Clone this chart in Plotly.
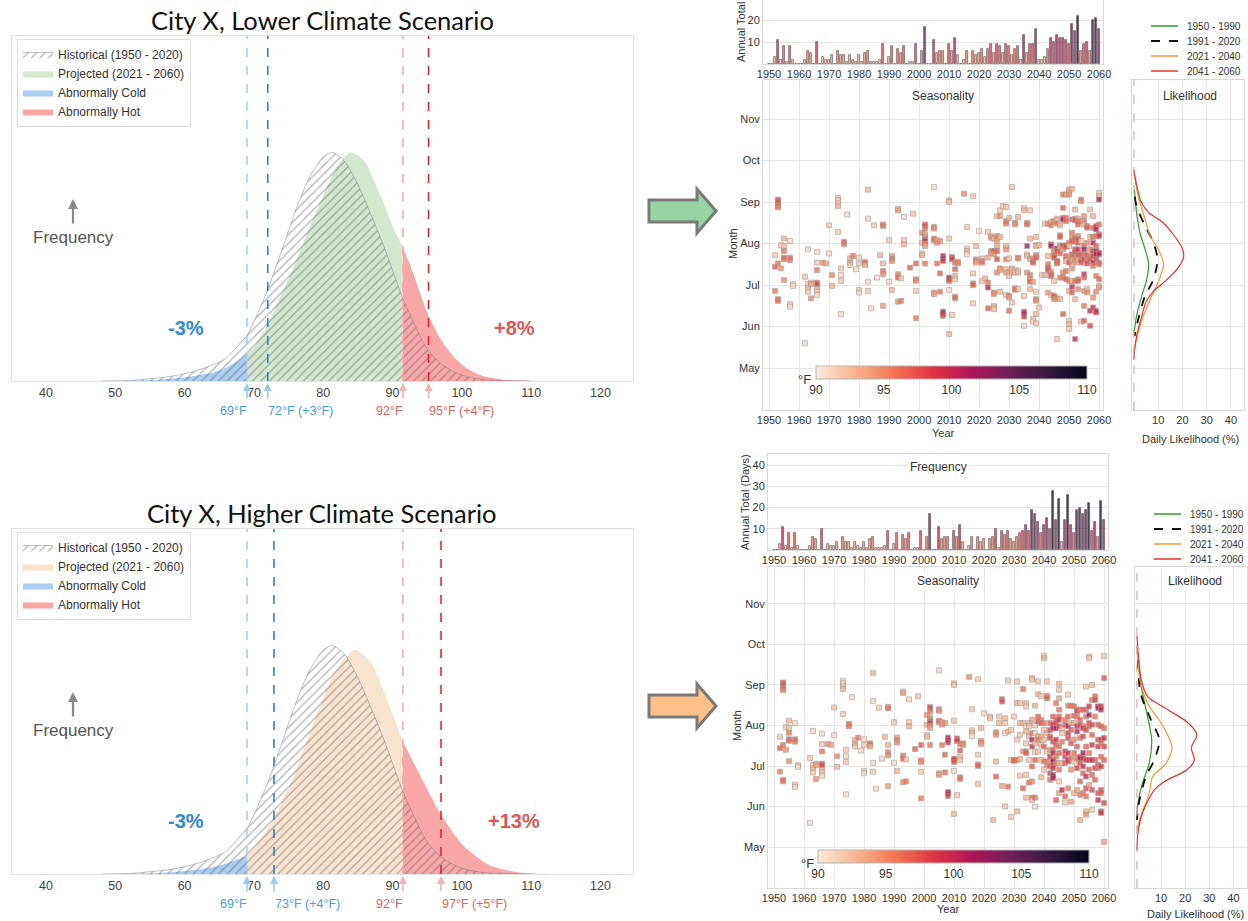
import numpy as np
import plotly.graph_objects as go

W, H = 1248, 921
def P(x): return x / W
def Q(y): return 1 - y / H

FONT = "Liberation Sans"

# ---------------- distribution panels (left) ----------------
hist_T = [48, 52, 55, 58, 61, 64, 66, 68, 69, 70, 72, 74, 76, 78, 80, 81.3, 83, 85, 87, 89, 91.5, 93, 95, 97, 99, 101, 103, 106, 110]
hist_h = [0.0, 0.002, 0.01, 0.02, 0.039, 0.07, 0.10, 0.165, 0.20, 0.26, 0.40, 0.57, 0.745, 0.89, 0.98, 1.0, 0.965, 0.86, 0.72, 0.57, 0.36, 0.26, 0.14, 0.075, 0.038, 0.017, 0.007, 0.002, 0.0]

lo_T = [50, 55, 58, 61, 64, 66, 68, 69, 70, 72, 74, 76, 78, 80, 82, 84, 86, 88, 90, 91.5, 93, 95, 97, 99, 101, 103, 106, 110, 114]
lo_h = [0.0, 0.004, 0.01, 0.02, 0.037, 0.058, 0.095, 0.12, 0.15, 0.25, 0.38, 0.52, 0.67, 0.81, 0.94, 1.0, 0.96, 0.83, 0.68, 0.585, 0.47, 0.30, 0.18, 0.10, 0.05, 0.022, 0.006, 0.001, 0.0]

hi_T = [50, 55, 58, 61, 64, 66, 68, 69, 70, 72, 74, 76, 78, 80, 82, 84.6, 87, 89, 91.5, 94, 97, 100, 104, 108, 112, 116]
hi_h = [0.0, 0.003, 0.008, 0.016, 0.03, 0.046, 0.068, 0.082, 0.11, 0.20, 0.31, 0.45, 0.61, 0.77, 0.90, 0.98, 0.92, 0.78, 0.58, 0.43, 0.26, 0.13, 0.038, 0.008, 0.001, 0.0]

COLD_T, HOT_T = 69, 91.5
lo_thresholds = [69, 72, 91.5, 95.2]
hi_thresholds = [69, 72.9, 91.5, 97.0]
lo_labels = ["69°F", "72°F (+3°F)", "92°F", "95°F (+4°F)"]
hi_labels = ["69°F", "73°F (+4°F)", "92°F", "97°F (+5°F)"]
lo_pct = ["-3%", "+8%"]
hi_pct = ["-3%", "+13%"]
dist_ticks = [40, 50, 60, 70, 80, 90, 100, 110, 120]

# ---------------- annual frequency (bars) ----------------
bar_years_hist = list(range(1950, 2021))
bar_hist = [0, 0, 3, 11, 2, 8, 1, 8, 2, 0,
            0, 0, 2, 6, 5, 0, 10, 0, 3, 2,
            2, 4, 0, 6, 4, 4, 1, 4, 2, 1,
            4, 1, 5, 6, 1, 1, 1, 2, 9, 0,
            3, 8, 0, 7, 5, 8, 0, 1, 1, 9,
            0, 6, 17, 0, 0, 11, 5, 6, 6, 0,
            9, 6, 12, 4, 0, 2, 6, 0, 6, 4,
            5]
bar_years_proj = list(range(2021, 2061))
bar_lo = [7, 3, 7, 9, 5, 9, 8, 5, 9, 8, 4, 7, 8, 2, 13, 5, 9, 9, 16, 2,
          2, 3, 7, 12, 10, 13, 12, 12, 11, 9, 18, 15, 22, 6, 9, 10, 6, 20, 21, 16]
bar_hi = [0, 5, 6, 10, 1, 9, 7, 9, 5, 4, 6, 8, 9, 12, 9, 19, 17, 13, 8, 12,
          15, 10, 28, 14, 24, 4, 14, 26, 12, 8, 19, 20, 17, 19, 22, 9, 13, 6, 23, 14]

# ---------------- seasonality (hot days: year, month position, temperature) ----------------
hist_years = [1952, 1953, 1954, 1955, 1957, 1958, 1962, 1963, 1964, 1966, 1968, 1969, 1970, 1971, 1973, 1974,
              1975, 1976, 1977, 1978, 1979, 1980, 1982, 1983, 1984, 1985, 1986, 1987, 1988, 1990, 1991, 1993,
              1994, 1995, 1997, 1998, 1999, 2001, 2002, 2005, 2006, 2007, 2008, 2010, 2011, 2012, 2013, 2015,
              2016, 2018, 2019, 2020]
hist_months = [[7.72, 7.44, 6.86], [9.06, 9.03, 9.0, 8.93, 8.9, 8.87, 7.52, 6.66, 6.62], [7.96, 7.4],
               [8.12, 7.94, 7.82, 7.66, 7.62, 7.12], [8.06, 7.66, 7.6, 6.54, 6.48], [7.02, 6.98], [7.2, 5.6],
               [7.86, 7.02, 6.94, 6.84], [7.06, 7.02, 6.68], [7.8, 7.54, 7.36, 7.06, 7.02, 6.9, 6.84, 6.76],
               [7.54], [7.52], [8.44, 7.76], [7.24, 6.98], [9.1, 9.04, 8.97, 8.9, 8.28], [7.4, 7.24, 7.1, 6.3],
               [8.04, 7.98], [8.7], [7.64, 7.54, 7.48], [7.7], [7.38], [7.66, 7.52, 6.88, 6.82], [7.56, 7.52, 7.48],
               [9.3, 8.6, 7.08, 6.86], [6.44], [8.44], [7.18], [7.72], [8.46, 8.42, 7.52, 7.34, 7.26, 6.5],
               [8.08, 7.08], [7.7, 7.64, 7.58, 6.88], [8.84, 8.8, 7.26, 7.18, 6.6], [7.16, 6.62], [8.64, 8.08, 7.98],
               [7.42], [8.72], [7.52, 7.14, 7.1, 6.86, 6.2], [8.26, 8.02, 7.76, 7.72],
               [8.46, 8.42, 8.36, 8.22, 8.16, 8.1, 8.06, 8.0, 7.94, 7.52], [9.36, 8.4, 8.36, 8.12, 8.08, 6.82, 6.78],
               [8.08, 8.02, 7.52], [8.06, 7.28, 6.84], [7.7, 7.64, 7.58, 6.36, 6.32, 6.26],
               [9.04, 9.0, 8.12, 7.18, 7.14, 7.1, 6.88, 5.82], [7.68, 7.62, 6.28], [7.54, 7.38, 7.22, 7.14, 6.72, 6.68],
               [7.56, 7.52], [9.2], [8.4, 7.88, 7.82, 7.74], [9.14, 7.28, 7.04, 7.0, 6.56], [7.94, 7.62, 7.58, 7.54], [8.3]]
hist_temps = [[92, 97, 96], [97, 98, 97, 96, 97, 95, 96, 97, 96], [92, 95], [93, 92, 96, 97, 96, 95], [91, 97, 96, 92, 91],
              [92, 91], [92, 91], [91, 92, 93, 92], [93, 94, 95], [91, 92, 96, 97, 98, 93, 92, 91], [95], [94], [92, 91],
              [95, 93], [92, 91, 92, 93, 92], [92, 91, 92, 91], [97, 96], [91], [93, 94, 92], [96], [91], [91, 92, 92, 91],
              [96, 97, 93], [93, 91, 91, 92], [91], [92], [91], [93], [95, 96, 93, 96, 95, 94], [92, 91], [94, 96, 95, 93],
              [93, 94, 96, 97, 95], [92, 96], [91, 92, 93], [97], [92], [97, 96, 95, 92, 96], [95, 93, 92, 93],
              [97, 98, 96, 94, 95, 97, 99, 95, 94, 96], [91, 96, 95, 97, 96, 95, 94], [93, 95, 96], [95, 97, 96],
              [101, 100, 99, 102, 100, 98], [93, 92, 92, 100, 99, 97, 91, 93], [98, 99, 92], [96, 97, 93, 92, 97, 96],
              [96, 95], [95], [92, 92, 93, 91], [92, 92, 96, 97, 92], [93, 95, 96, 94], [91]]

lo_years = [2021, 2022, 2023, 2024, 2025, 2026, 2027, 2028, 2029, 2030, 2031, 2032, 2033, 2035, 2036, 2037, 2038,
            2039, 2040, 2041, 2042, 2043, 2044, 2045, 2046, 2047, 2048, 2049, 2050, 2051, 2052, 2053, 2054, 2055,
            2056, 2057, 2058, 2059, 2060]
lo_months = [[7.64, 7.58, 7.54, 7.1], [7.16], [8.28, 7.66, 7.06, 6.94, 6.44], [8.18, 8.14, 7.82, 7.78],
             [8.12, 7.82, 7.74, 6.82, 6.78, 6.5, 6.46, 6.42], [8.66, 8.18, 8.08, 7.94, 7.82, 7.62, 7.3],
             [8.8, 8.66, 8.16, 7.4, 7.36, 6.84], [8.9], [8.88, 8.54, 8.48, 7.94, 7.86, 7.62, 7.38, 7.3, 6.76],
             [8.62, 7.64, 7.3, 7.22, 6.74, 6.7, 6.38], [9.36, 7.4, 7.36, 7.3, 6.58], [8.5, 8.46, 7.36, 7.3, 6.92, 6.88],
             [8.64, 7.66, 7.64, 7.34, 7.3, 6.9], [8.86, 8.8, 6.74, 6.36, 6.32, 6.24, 6.02], [8.5, 8.46, 7.94, 7.74, 7.7, 7.3],
             [8.8, 8.12, 7.62, 7.24, 7.14, 7.08, 6.9], [7.64, 7.58, 7.54, 7.08, 6.18, 6.12],
             [8.16, 7.96, 7.94, 7.72, 7.68, 7.66, 6.84, 6.66, 6.62, 6.3, 6.08], [7.96, 6.46], [7.24], [8.48, 7.24],
             [8.48, 7.7, 7.5, 7.42, 7.36, 6.82], [8.52, 8.44, 7.98, 7.94, 7.32, 7.26, 7.22, 6.76],
             [8.54, 7.86, 7.76, 7.72, 7.66, 7.1, 6.74, 6.72, 6.66], [8.6, 8.56, 8.48, 7.88, 7.82, 7.58, 7.56, 7.52, 6.68, 5.7],
             [8.5, 8.44, 8.2, 8.16, 7.96, 7.92, 7.76, 7.18, 6.66], [9.18, 8.86, 8.62, 8.58, 7.94, 7.9, 7.86, 7.3, 7.18, 6.3],
             [9.18, 8.62, 8.54, 7.96, 7.92, 7.7, 7.66, 7.58, 7.34, 7.14],
             [9.3, 9.24, 9.18, 8.02, 7.94, 7.54, 7.1, 6.86, 6.14, 6.06, 5.94],
             [9.32, 8.58, 8.26, 8.14, 8.06, 7.74, 7.66, 7.6, 7.4, 7.1, 6.96, 6.82],
             [8.82, 8.6, 8.56, 8.14, 8.1, 8.04, 7.86, 7.8, 7.54, 7.1, 6.66, 5.7],
             [8.6, 8.54, 8.46, 8.18, 8.1, 8.02, 7.86, 7.72, 7.7, 7.66, 7.62, 7.14, 7.1, 6.9],
             [9.06, 9.02, 8.06, 7.74, 7.62, 7.54, 6.12], [8.66, 8.54, 8.46, 7.94, 7.86, 7.74, 7.62, 7.26, 7.18, 6.86, 6.5, 6.14],
             [8.42, 8.38, 8.02, 7.72, 7.58, 7.52, 6.9, 6.82], [8.82, 8.16, 7.86, 7.66, 7.62, 6.38, 6.02],
             [8.66, 8.38, 8.16, 8.02, 7.82, 7.78, 7.7, 7.54, 7.46, 6.7, 6.46],
             [8.42, 8.34, 8.18, 7.94, 7.82, 7.74, 7.62, 7.22, 6.84, 6.38, 6.34],
             [9.22, 9.14, 9.06, 8.46, 8.22, 8.18, 7.78, 7.74, 7.54, 7.5, 7.14, 6.98, 6.94]]
lo_temps = [[93, 95, 96, 92], [93], [92, 94, 96, 101, 97], [93, 95, 96, 94], [93, 97, 95, 96, 95, 92, 93, 92],
            [93, 96, 95, 94, 97, 98, 95], [92, 95, 93, 96, 94, 93], [92], [92, 97, 96, 93, 95, 96, 93, 94, 92],
            [93, 92, 93, 92, 97, 94, 96], [92, 93, 92, 93, 92], [96, 95, 93, 92, 97, 96], [93, 96, 95, 92, 93, 92],
            [92, 93, 92, 100, 101, 99, 91], [97, 96, 102, 92, 93, 95], [92, 93, 94, 96, 95, 97, 93],
            [95, 96, 97, 94, 92, 91], [93, 95, 92, 96, 94, 97, 92, 96, 95, 93, 92], [93, 92], [92], [92, 93],
            [95, 93, 96, 97, 98, 94], [93, 96, 99, 101, 95, 96, 97, 93], [95, 96, 93, 97, 98, 92, 96, 97, 95],
            [93, 92, 96, 100, 97, 98, 97, 96, 95, 92], [92, 93, 96, 97, 95, 94, 97, 96, 93],
            [96, 97, 98, 101, 100, 97, 94, 95, 96, 97], [94, 96, 97, 96, 98, 97, 95, 93, 96, 97],
            [94, 93, 95, 96, 92, 97, 96, 93, 92, 93, 92], [93, 97, 96, 95, 97, 98, 96, 94, 95, 92, 100, 97],
            [93, 96, 97, 95, 97, 96, 98, 97, 95, 96, 93, 100], [93, 96, 97, 95, 98, 97, 99, 101, 96, 97, 93, 96, 97, 95],
            [96, 95, 92, 97, 96, 98, 92], [95, 96, 93, 97, 102, 96, 98, 100, 97, 95, 96, 97],
            [96, 97, 95, 97, 96, 98, 93, 95], [92, 93, 95, 96, 97, 100, 98], [93, 97, 96, 101, 100, 97, 98, 101, 96, 95, 99],
            [99, 101, 96, 97, 100, 102, 98, 96, 95, 100, 99], [92, 93, 101, 96, 97, 99, 101, 100, 98, 96, 97, 93, 94]]

hi_years = [2022, 2023, 2024, 2025, 2026, 2027, 2028, 2029, 2030, 2031, 2032, 2033, 2034, 2035, 2036, 2037, 2038,
            2039, 2040, 2041, 2042, 2043, 2044, 2045, 2046, 2047, 2048, 2049, 2050, 2051, 2052, 2053, 2054, 2055,
            2056, 2057, 2058, 2059, 2060]
hi_months = [[8.22, 8.18], [5.67], [7.83, 7.77, 7.11, 6.74], [8.22, 8.06], [8.65, 8.59, 6.51], [8.18, 8.06, 7.81, 6.0],
             [9.11, 7.85, 6.49], [7.89, 7.15, 5.74], [8.22, 7.15, 7.13], [9.09, 8.55, 7.65, 7.15, 5.88],
             [8.55, 8.06, 7.77, 7.18, 6.76], [8.9, 8.06, 7.36, 6.45], [8.55, 8.47, 7.98, 7.85, 7.56, 7.36, 7.32, 6.78, 6.22],
             [8.06, 7.98, 7.73, 7.15, 6.59], [9.17, 9.13, 8.14, 7.81, 7.65, 7.48, 6.99, 6.62, 6.22, 6.16],
             [8.49, 8.0, 7.81, 7.56, 7.34, 7.15, 6.22, 6.0], [9.09, 8.77, 8.22, 8.1, 7.73, 7.65, 7.36],
             [8.72, 8.14, 8.06, 7.73, 7.52, 7.15, 6.72], [9.72, 9.66, 8.06, 7.89, 7.65, 7.48, 7.11, 6.91],
             [9.09, 8.73, 8.67, 7.81, 7.36, 7.11, 7.03], [8.06, 7.89, 7.73, 7.69, 7.4, 7.23, 6.99, 6.82, 6.66],
             [8.22, 8.02, 7.93, 7.6, 7.4, 7.32, 7.15, 7.11, 7.03, 6.95, 6.78, 6.74, 6.7],
             [8.55, 8.14, 8.06, 7.93, 7.65, 7.52, 7.23, 7.07, 6.16],
             [9.03, 8.88, 8.67, 8.39, 8.22, 8.14, 7.98, 7.48, 7.32, 7.07, 6.91, 6.62, 6.33],
             [7.93, 7.81, 7.6, 7.07, 6.41], [8.14, 8.02, 7.36, 7.23, 7.07, 6.25, 6.1],
             [8.76, 8.49, 8.22, 7.98, 7.81, 7.69, 7.32, 7.15, 7.11, 6.45], [8.49, 8.06, 7.89, 7.56, 7.19, 6.91, 6.12],
             [8.47, 8.24, 8.06, 7.65, 7.32, 7.11, 6.33], [8.39, 8.35, 8.22, 7.98, 7.85, 7.48, 7.19, 6.95, 6.41],
             [8.39, 8.14, 8.02, 7.69, 7.23, 7.19, 7.07, 6.62, 6.29, 5.67], [8.39, 7.98, 7.93, 7.73, 7.32, 7.19, 6.99, 6.82, 6.33],
             [8.96, 8.39, 8.22, 7.89, 7.48, 7.15, 6.74, 6.45, 6.25, 5.88, 5.8],
             [9.7, 9.66, 8.47, 8.26, 8.06, 7.98, 7.32, 7.15, 6.91, 6.53], [9.0, 8.63, 8.02, 7.77, 7.52, 7.15, 6.78, 6.41, 5.92],
             [8.72, 8.63, 8.22, 7.15, 6.95, 6.66], [8.47, 8.43, 8.02, 7.65, 7.48, 7.03, 6.95, 6.33, 6.16],
             [8.47, 8.39, 7.98, 7.65, 7.56, 7.23, 6.99, 6.41, 6.33, 5.88, 5.84], [9.72, 9.17, 7.93, 7.69, 7.48, 7.15, 6.09, 5.13]]
hi_temps = [[93, 92], [93], [96, 95, 93, 97], [92, 93], [97, 98, 94], [93, 92, 91, 92], [92, 93, 97], [92, 93, 92],
            [92, 96, 97], [92, 93, 92, 96, 93], [92, 93, 92, 93, 92], [96, 93, 95, 97], [93, 92, 91, 93, 92, 96, 97, 92, 93],
            [93, 92, 93, 92, 97], [93, 92, 94, 96, 101, 100, 97, 95, 97, 92], [93, 92, 91, 93, 92, 97, 96, 91],
            [92, 93, 97, 98, 93, 96, 92], [92, 96, 97, 94, 93, 92, 93], [92, 93, 96, 92, 93, 97, 96, 92],
            [92, 96, 97, 93, 92, 96, 95], [97, 98, 96, 97, 94, 99, 97, 98, 96],
            [97, 99, 101, 98, 97, 100, 99, 102, 98, 99, 101, 103, 100], [96, 97, 98, 101, 99, 97, 96, 95, 97],
            [93, 92, 94, 96, 97, 99, 98, 96, 97, 93, 96, 92, 94], [93, 92, 96, 92, 100], [96, 97, 99, 98, 97, 97, 92],
            [92, 96, 97, 101, 99, 98, 99, 101, 98, 96], [96, 93, 97, 98, 96, 95, 94], [96, 97, 93, 95, 96, 92, 93],
            [97, 98, 96, 99, 101, 97, 96, 98, 94], [96, 97, 98, 96, 99, 101, 98, 97, 96, 93],
            [97, 96, 99, 98, 101, 99, 100, 97, 96], [92, 97, 96, 98, 97, 99, 100, 98, 96, 93, 95],
            [93, 92, 99, 101, 98, 97, 96, 99, 97, 94], [93, 96, 98, 97, 99, 100, 97, 98, 92], [97, 98, 96, 97, 99, 97],
            [101, 100, 97, 98, 99, 97, 96, 98, 100], [99, 101, 97, 98, 96, 97, 99, 98, 97, 100, 99],
            [92, 97, 96, 99, 98, 97, 98, 94]]

month_vals = [5, 6, 7, 8, 9, 10, 11]
month_text = ["May", "Jun", "Jul", "Aug", "Sep", "Oct", "Nov"]
year_ticks = [1950, 1960, 1970, 1980, 1990, 2000, 2010, 2020, 2030, 2040, 2050, 2060]

# ---------------- likelihood (month position, daily likelihood %) ----------------
period_names = ["1950 - 1990", "1991 - 2020", "2021 - 2040", "2041 - 2060"]
lo_like_m = [[9.3, 8.74, 8.26, 7.86, 7.54, 7.14, 6.74, 6.26, 5.86],
             [9.13, 8.9, 8.42, 8.02, 7.62, 7.14, 6.74, 6.18, 5.78],
             [9.7, 9.13, 8.58, 8.18, 7.86, 7.5, 7.14, 6.74, 6.26, 5.7, 5.38],
             [9.77, 9.3, 9.0, 8.75, 8.5, 8.2, 7.9, 7.68, 7.4, 7.1, 6.85, 6.6, 6.2, 5.8, 5.4, 5.2]]
lo_like_p = [[0.2, 1.1, 2.5, 4.6, 6.0, 5.3, 3.2, 1.1, 0.1],
             [0.3, 1.1, 4.6, 8.1, 9.7, 8.1, 4.6, 1.8, 0.3],
             [0, 1.8, 4.6, 6.7, 10.1, 12.2, 10.5, 7.4, 3.9, 1.1, 0],
             [0, 1.5, 3.0, 6.0, 12.0, 16.5, 19.8, 20.5, 18.0, 13.0, 8.0, 5.0, 3.0, 1.2, 0.2, 0]]
hi_like_m = [[9.79, 8.96, 8.22, 7.65, 7.07, 6.58, 6.08, 5.83],
             [9.62, 8.8, 8.14, 7.65, 7.15, 6.74, 6.08, 5.67],
             [9.95, 9.13, 8.55, 8.06, 7.48, 7.07, 6.74, 6.33, 5.75, 5.42],
             [10.2, 9.13, 8.72, 8.39, 8.06, 7.77, 7.45, 7.15, 6.9, 6.62, 6.41, 5.84, 5.34, 4.93]]
hi_like_p = [[0.4, 1.8, 4.4, 6.1, 5.1, 2.3, 0.4, 0],
             [0.4, 1.5, 5.8, 9.3, 7.2, 3.7, 0.8, 0],
             [0, 1.3, 4.4, 10.0, 14.5, 12.1, 6.5, 5.1, 1.5, 0],
             [0, 1.8, 4.4, 12.8, 21.3, 24.8, 22.5, 23.8, 20.6, 11.4, 7.2, 2.3, 0.4, 0]]

# ---------------- styles ----------------
ROCKET_R = [[0.0, '#faebdd'], [0.143, '#f6b48f'], [0.286, '#f37651'], [0.429, '#e13342'],
            [0.571, '#ad1759'], [0.714, '#701f57'], [0.857, '#35193e'], [1.0, '#03051a']]
line_colors = ['#2ca02c', '#111111', '#f59a3c', '#e8322e']
line_dash = ['solid', 'dash', 'solid', 'solid']
line_width = [1.2, 1.8, 1.2, 1.2]

fig = go.Figure()
shapes, anns = [], []

def ann(text, x, y, size=11, color='#333', xref='paper', yref='paper', **kw):
    d = dict(text=text, x=x, y=y, xref=xref, yref=yref, showarrow=False, xanchor='center', yanchor='middle',
             font=dict(family=FONT, size=size, color=color))
    d.update(kw)
    anns.append(d)

# ---------- left distribution panels ----------
def add_dist(xa, ya, legend, pT, ph, pcolor, thr, labels, pcts, title, ytop, ybot):
    T = np.array(pT, float); h = np.array(ph, float)
    segs = [(T <= COLD_T, '#abcdef', 'Abnormally Cold', 3),
            ((T >= COLD_T) & (T <= HOT_T), pcolor, 'Projected (2021 - 2060)', 2),
            (T >= HOT_T, '#f9a6a6', 'Abnormally Hot', 4)]
    for mask, col, name, rank in segs:
        fig.add_trace(go.Scatter(x=T[mask], y=h[mask], mode='lines',
                                 line=dict(width=0, color=col, shape='spline', smoothing=0.7),
                                 fill='tozeroy', fillcolor=col, name=name, legend=legend,
                                 legendrank=rank, xaxis=xa, yaxis=ya, hoverinfo='skip'))
    fig.add_trace(go.Scatter(x=hist_T, y=hist_h, mode='lines',
                             line=dict(width=0.8, color='rgba(120,120,135,0.6)', shape='spline', smoothing=0.7),
                             fill='tozeroy', fillcolor='rgba(0,0,0,0)',
                             fillpattern=dict(shape='/', fgcolor='#5f5f72', bgcolor='rgba(0,0,0,0)',
                                              size=6, solidity=0.2),
                             name='Historical (1950 - 2020)', legend=legend, legendrank=1,
                             xaxis=xa, yaxis=ya, hoverinfo='skip'))
    dcols = ['#a8d0f2', '#2b7fd4', '#f5abab', '#e8232a']
    acols = ['#9ecaee', '#9ecaee', '#f4b2b2', '#f4b2b2']
    tcols = ['#4aa0dc', '#4aa0dc', '#e06262', '#e06262']
    anchors = ['right', 'left', 'right', 'left']
    for t, dc, ac, tc, lab, anc in zip(thr, dcols, acols, tcols, labels, anchors):
        shapes.append(dict(type='line', xref=xa, yref=ya + ' domain', x0=t, x1=t, y0=0, y1=1,
                           line=dict(color=dc, width=1.6, dash='dash')))
        anns.append(dict(text='', x=t, y=Q(ybot + 2), xref=xa, yref='paper', showarrow=True,
                         ax=0, ay=17, arrowcolor=ac, arrowwidth=1.6, arrowhead=2, arrowsize=1))
        ann(lab, t + (0.3 if anc == 'right' else -0.2), Q(ybot + 30), size=12.5, color=tc,
            xref=xa, xanchor=anc)
    ann('<b>%s</b>' % pcts[0], 60.2, Q(ybot - 53), size=20, color='#2f8bd6', xref=xa)
    ann('<b>%s</b>' % pcts[1], 107.6, Q(ybot - 53), size=20, color='#e25555', xref=xa)
    ann(title, P(322), Q(ytop - 16), font=dict(family='Lato', size=25.5, color='#111'))
    ann('Frequency', P(73), Q(ytop + 201), size=17, color='#555')
    anns.append(dict(text='', x=P(73), y=Q(ytop + 163), xref='paper', yref='paper', showarrow=True,
                     ax=0, ay=26, arrowcolor='#8a8a8a', arrowwidth=2.2, arrowhead=2, arrowsize=0.9))

add_dist('x', 'y', 'legend', lo_T, lo_h, '#d3e8ce', lo_thresholds, lo_labels, lo_pct,
         'City X, Lower Climate Scenario', 36, 381)
add_dist('x2', 'y2', 'legend2', hi_T, hi_h, '#f8e3cd', hi_thresholds, hi_labels, hi_pct,
         'City X, Higher Climate Scenario', 529, 874)

# ---------- right panels ----------
def flatten(years, months, temps):
    xs, ys, cs = [], [], []
    for yr, ms, ts in zip(years, months, temps):
        for m, t in zip(ms, ts):
            xs.append(yr); ys.append(m); cs.append(t)
    return xs, ys, cs

def add_right(xb, yb, xs_, ys_, xl, yl, coloraxis, proj_bars, pyears, pmonths, ptemps, like_m, like_p,
              leg_x0, leg_y0):
    fig.add_trace(go.Bar(x=bar_years_hist + bar_years_proj, y=bar_hist + proj_bars, width=0.8,
                         marker=dict(color=bar_hist + proj_bars, coloraxis='coloraxis3',
                                     line=dict(color='rgba(60,35,45,0.85)', width=0.8)),
                         opacity=0.75, showlegend=False, xaxis=xb, yaxis=yb, hoverinfo='skip'))
    hx, hy, hc = flatten(hist_years, hist_months, hist_temps)
    px_, py_, pc_ = flatten(pyears, pmonths, ptemps)
    fig.add_trace(go.Scatter(x=hx + px_, y=hy + py_, mode='markers',
                             marker=dict(symbol='square', size=5, color=hc + pc_, coloraxis=coloraxis,
                                         opacity=0.8, line=dict(color='rgba(160,150,150,0.9)', width=0.8)),
                             showlegend=False, xaxis=xs_, yaxis=ys_, hoverinfo='skip'))
    for i, (name, m, p, c, d, w) in enumerate(zip(period_names, like_m, like_p, line_colors, line_dash, line_width)):
        fig.add_trace(go.Scatter(x=p, y=m, mode='lines', name=name, showlegend=False,
                                 line=dict(color=c, dash=d, width=w, shape='spline', smoothing=0.8),
                                 xaxis=xl, yaxis=yl, hoverinfo='skip'))
        yy = leg_y0 + 15 * i
        shapes.append(dict(type='line', xref='paper', yref='paper', x0=P(leg_x0), x1=P(leg_x0 + 27),
                           y0=Q(yy), y1=Q(yy), line=dict(color=c, width=w + 0.3, dash=d)))
        ann(name, P(leg_x0 + 34), Q(yy), size=10, color='#333', xanchor='left')
    shapes.append(dict(type='line', xref=xl, yref=yl + ' domain', x0=0, x1=0, y0=0, y1=1,
                       line=dict(color='#c9a0a0', width=1, dash='dash')))

add_right('x3', 'y3', 'x4', 'y4', 'x5', 'y5', 'coloraxis', bar_lo, lo_years, lo_months, lo_temps,
          lo_like_m, lo_like_p, 1151, 26)
add_right('x6', 'y6', 'x7', 'y7', 'x8', 'y8', 'coloraxis2', bar_hi, hi_years, hi_months, hi_temps,
          hi_like_m, hi_like_p, 1154, 514)

# middle arrows
def block_arrow(cy, fill):
    pts = [(649, cy - 11), (697, cy - 11), (697, cy - 22), (716, cy), (697, cy + 22), (697, cy + 11), (649, cy + 11)]
    path = 'M ' + ' L '.join('%.5f,%.5f' % (P(a), Q(b)) for a, b in pts) + ' Z'
    shapes.append(dict(type='path', xref='paper', yref='paper', path=path, fillcolor=fill,
                       line=dict(color='#7a7a7a', width=3)))
block_arrow(211, '#96d5a3')
block_arrow(706, '#fcc088')

# panel labels
ann('Seasonality', P(943), Q(96), size=12, bgcolor='white')
ann('Likelihood', P(1190), Q(96), size=12, bgcolor='white')
ann('Seasonality', P(948), Q(581), size=12, bgcolor='white')
ann('Likelihood', P(1195), Q(581), size=12, bgcolor='white')
ann('Frequency', P(938), Q(467), size=12, bgcolor='white')
ann('Year', P(943), Q(433), size=11)
ann('Year', P(948), Q(909), size=11)
ann('Daily Likelihood (%)', P(1190), Q(439), size=11)
ann('Daily Likelihood (%)', P(1195), Q(914), size=11)
ann('Month', P(733), Q(244), size=11, textangle=-90)
ann('Month', P(737), Q(726), size=11, textangle=-90)
ann('Annual Total (Days)', P(741), Q(14), size=11, textangle=-90)
ann('Annual Total (Days)', P(745), Q(502), size=11, textangle=-90)
ann('°F', P(804), Q(380), size=13)
ann('°F', P(807), Q(863), size=13)

# ---------- axes ----------
def left_axes(yt, yb):
    xa = dict(domain=[P(12), P(633)], range=[35.1, 124.7], tickvals=dist_ticks, showgrid=False,
              zeroline=False, showline=True, linecolor='#e2e2e2', mirror=True, ticks='',
              tickfont=dict(family=FONT, size=12.5, color='#444'))
    ya = dict(domain=[Q(yb), Q(yt)], range=[0, 1.51], showgrid=False, zeroline=False, showline=True,
              linecolor='#e2e2e2', mirror=True, showticklabels=False, ticks='')
    return xa, ya

def rax(domain, rng, anchor, tickvals=None, ticktext=None, grid=True, labels=True):
    d = dict(domain=domain, range=rng, anchor=anchor, showgrid=grid, gridcolor='#e6e6e6', gridwidth=1,
             showline=True, linecolor='#d9d9d9', mirror=True, zeroline=False, ticks='',
             showticklabels=labels, tickfont=dict(family=FONT, size=11, color='#333'))
    if tickvals is not None:
        d['tickvals'] = tickvals
    if ticktext is not None:
        d['ticktext'] = ticktext
    return d

xa1, ya1 = left_axes(36, 381)
xa2, ya2 = left_axes(529, 874)
xa1['anchor'] = 'y'; ya1['anchor'] = 'x'
xa2['anchor'] = 'y2'; ya2['anchor'] = 'x2'

cb_common = dict(orientation='h', thickness=13, lenmode='fraction', xanchor='center', yanchor='middle',
                 tickvals=[90, 95, 100, 105, 110], ticks='', ticklabelposition='outside bottom',
                 tickfont=dict(family=FONT, size=12, color='#333'), outlinecolor='#b5b5b5',
                 outlinewidth=1, xpad=0, ypad=0)

leg_common = dict(xanchor='left', yanchor='top', bgcolor='white', bordercolor='#dddddd', borderwidth=1,
                  font=dict(family=FONT, size=12, color='#333'), traceorder='normal')

fig.update_layout(
    width=W, height=H, margin=dict(l=0, r=0, t=0, b=0, autoexpand=False),
    paper_bgcolor='white', plot_bgcolor='white', font=dict(family=FONT, color='#333'),
    barmode='overlay', bargap=0,
    xaxis=xa1, yaxis=ya1, xaxis2=xa2, yaxis2=ya2,
    xaxis3=rax([P(763), P(1103)], [1948.0, 2061.3], 'y3', year_ticks, grid=False),
    yaxis3=rax([Q(64), 1.0], [0, 29.1], 'x3', [10, 20]),
    xaxis4=rax([P(763), P(1103)], [1948.0, 2061.3], 'y4', year_ticks),
    yaxis4=rax([Q(410), Q(80)], [3.99, 11.94], 'x4', month_vals, month_text),
    xaxis5=rax([P(1132), P(1244)], [-0.8, 45.4], 'y5', [10, 20, 30, 40]),
    yaxis5=rax([Q(410), Q(80)], [3.99, 11.94], 'x5', month_vals, labels=False),
    xaxis6=rax([P(768), P(1108)], [1948.0, 2061.3], 'y6', year_ticks, grid=False),
    yaxis6=rax([Q(550), Q(454)], [0, 45.2], 'x6', [10, 20, 30, 40]),
    xaxis7=rax([P(768), P(1108)], [1948.0, 2061.3], 'y7', year_ticks),
    yaxis7=rax([Q(888), Q(567)], [3.99, 11.91], 'x7', month_vals, month_text),
    xaxis8=rax([P(1135), P(1247)], [-0.8, 45.6], 'y8', [10, 20, 30, 40]),
    yaxis8=rax([Q(888), Q(567)], [3.99, 11.91], 'x8', month_vals, labels=False),
    coloraxis=dict(colorscale=ROCKET_R, cmin=90, cmax=110,
                   colorbar=dict(x=P(951.5), y=Q(380.5), len=271 / W, **cb_common)),
    coloraxis2=dict(colorscale=ROCKET_R, cmin=90, cmax=110,
                    colorbar=dict(x=P(953.5), y=Q(863.5), len=271 / W, **cb_common)),
    coloraxis3=dict(colorscale=ROCKET_R, cmin=0, cmax=22, showscale=False),
    legend=dict(x=P(17), y=Q(39), **leg_common),
    legend2=dict(x=P(17), y=Q(532), **leg_common),
    shapes=shapes, annotations=anns, showlegend=True,
)

fig.write_html("out.html", config={'displayModeBar': False},
               post_script="document.body.style.margin='0';document.body.style.overflow='hidden';")
